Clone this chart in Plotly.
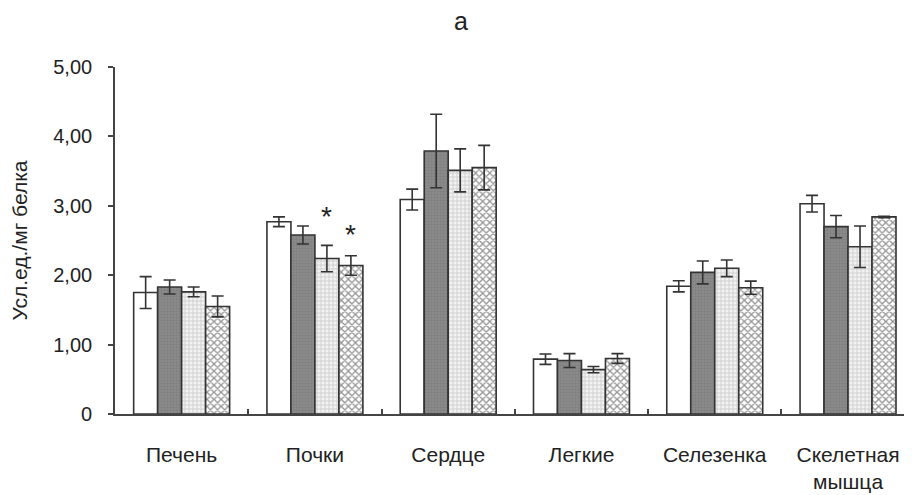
import plotly.graph_objects as go

categories = ["Печень", "Почки", "Сердце", "Легкие", "Селезенка", "Скелетная<br>мышца"]
s1 = [1.75, 2.77, 3.09, 0.79, 1.84, 3.03]
s1_err = [0.23, 0.07, 0.15, 0.075, 0.08, 0.12]
s2 = [1.83, 2.58, 3.79, 0.77, 2.04, 2.70]
s2_err = [0.10, 0.13, 0.53, 0.10, 0.165, 0.16]
s3 = [1.76, 2.24, 3.51, 0.64, 2.10, 2.41]
s3_err = [0.07, 0.19, 0.31, 0.045, 0.12, 0.30]
s4 = [1.55, 2.14, 3.55, 0.80, 1.82, 2.84]
s4_err = [0.15, 0.14, 0.32, 0.07, 0.095, 0.01]
y_ticks = [0, 1, 2, 3, 4, 5]
y_tick_text = ["0", "1,00", "2,00", "3,00", "4,00", "5,00"]
star_cat = [1, 1]
star_bar = [2, 3]
star_y = [2.85, 2.59]

series = [s1, s2, s3, s4]
errs = [s1_err, s2_err, s3_err, s4_err]
patterns = [
    dict(shape=""),
    dict(shape=".", bgcolor="#8e8e8e", fgcolor="#707070", size=3, solidity=0.5),
    dict(shape="+", bgcolor="#f2f2f2", fgcolor="#a0a0a0", size=4, solidity=0.35),
    dict(shape="x", bgcolor="#ffffff", fgcolor="#2a2a2a", size=5, solidity=0.45),
]
fills = ["#ffffff", "#8e8e8e", "#f2f2f2", "#ffffff"]

fig = go.Figure()
for vals, e, p, c in zip(series, errs, patterns, fills):
    fig.add_trace(go.Bar(
        x=categories, y=vals,
        marker=dict(color=c, pattern=p, line=dict(color="#333333", width=1.6)),
        error_y=dict(type="data", array=e, visible=True, color="#333333", thickness=1.6, width=6),
        showlegend=False,
    ))

bargap = 0.28
bw = (1 - bargap) / 4
for ci, bi, yv in zip(star_cat, star_bar, star_y):
    fig.add_annotation(x=ci - (1 - bargap) / 2 + bw * (bi + 0.5), y=yv, text="*",
                       showarrow=False, font=dict(size=28, color="#222222",
                                                  family="Liberation Sans, Arial"))

fig.update_layout(
    width=904, height=487,
    margin=dict(l=107, r=0, t=59, b=81),
    paper_bgcolor="white", plot_bgcolor="white",
    barmode="group", bargap=bargap, bargroupgap=0,
    font=dict(family="Liberation Sans, Arial", size=22, color="#222222"),
    title=dict(text="a", x=0.501, xanchor="center", y=1.0, yanchor="top",
               yref="container", pad=dict(t=4), font=dict(size=25, color="#222222")),
)
fig.update_xaxes(
    range=[-0.5, 5.48], showline=True, linecolor="#444444", linewidth=1.6,
    ticks="inside", tickson="boundaries", ticklen=5, tickcolor="#444444", tickwidth=1.5,
    ticklabelstandoff=21, tickfont=dict(size=21), showgrid=False, automargin=False,
)
fig.update_yaxes(
    range=[0, 5], tickvals=y_ticks, ticktext=y_tick_text,
    showline=True, linecolor="#444444", linewidth=1.6,
    ticks="outside", ticklen=5, tickcolor="#444444", tickwidth=1.5,
    ticklabelstandoff=12, tickfont=dict(size=20), showgrid=False, zeroline=False,
    automargin=False,
    title=dict(text="Усл.ед./мг белка", font=dict(size=21), standoff=20),
)
fig.write_html("out.html")
